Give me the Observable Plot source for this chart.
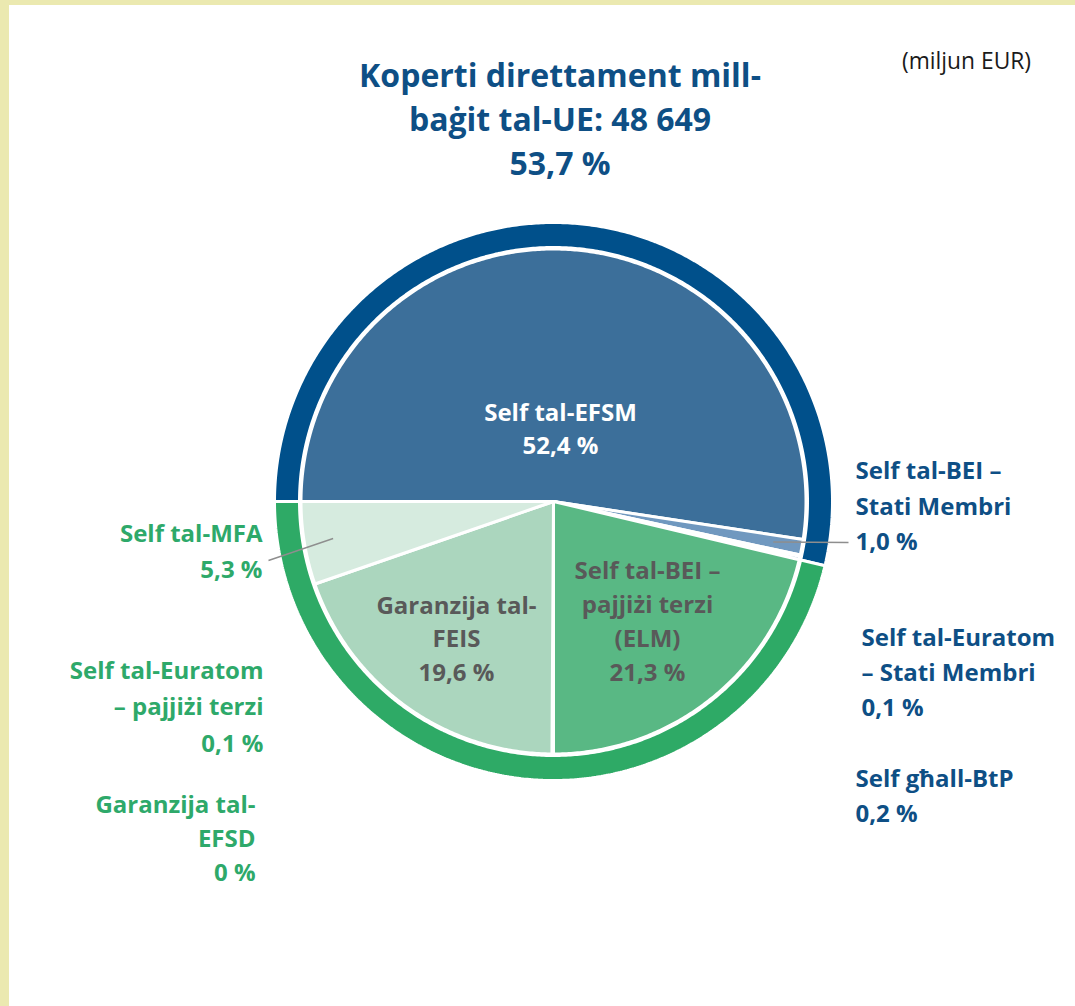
<!DOCTYPE html>
<html>
<head>
<meta charset="utf-8">
<script src="https://cdn.jsdelivr.net/npm/d3@7"></script>
<script src="https://cdn.jsdelivr.net/npm/@observablehq/plot@0.6"></script>
<style>
  body { margin: 0; background: #fff; }
  #frame { position: relative; width: 1075px; height: 1006px; overflow: hidden; background: #fff; font-family: "Open Sans", sans-serif; }
  #bandTop { position: absolute; left: 0; top: 0; width: 1075px; height: 5px; background: #ebe9b0; }
  #bandLeft { position: absolute; left: 0; top: 0; width: 9px; height: 1006px; background: #ebe9b0; }
  #title { position: absolute; left: 210px; top: 53px; width: 700px; text-align: center; font-weight: 700; font-size: 32px; line-height: 44px; color: #0e4f85; }
  #unit { position: absolute; left: 902px; top: 46px; font-size: 22.8px; line-height: 30px; color: #1a1a1a; }
  #chart { position: absolute; left: 0; top: 0; }
</style>
</head>
<body>
<div id="frame">
  <div id="bandTop"></div>
  <div id="bandLeft"></div>
  <div id="chart"></div>
  <div id="title">Koperti direttament mill-<br>baġit tal-UE: 48 649<br>53,7 %</div>
  <div id="unit">(miljun EUR)</div>
</div>
<script>
// ---- data ----
const categories = [
  "Self tal-EFSM",
  "Self tal-BEI – Stati Membri",
  "Self tal-Euratom – Stati Membri",
  "Self għall-BtP",
  "Self tal-BEI – pajjiżi terzi (ELM)",
  "Self tal-Euratom – pajjiżi terzi",
  "Garanzija tal-EFSD",
  "Garanzija tal-FEIS",
  "Self tal-MFA"
];
const shares = [52.4, 1.0, 0.1, 0.2, 21.3, 0.1, 0, 19.6, 5.3];
const groupOf = [0, 0, 0, 0, 1, 1, 1, 1, 1];
const ringGroups = ["Koperti direttament mill-baġit tal-UE", "Oħrajn"];
const labelLines = [
  "Self tal-EFSM",
  "Self tal-BEI –\nStati Membri",
  "Self tal-Euratom\n– Stati Membri",
  "Self għall-BtP",
  "Self tal-BEI –\npajjiżi terzi\n(ELM)",
  "Self tal-Euratom\n– pajjiżi terzi",
  "Garanzija tal-\nEFSD",
  "Garanzija tal-\nFEIS",
  "Self tal-MFA"
];

// ---- styles ----
const blue = "#0e4f85", green = "#2ea96a", gray = "#595959";
const sliceColors = ["#3c6f9a", "#7098bf", "#5d86b0", "#4d7aa6", "#59b884", "#80c79f", "#90cfab", "#abd6be", "#d6ebdf"];
const ringColors = ["#00508b", "#2eaa66"];
const R = 252.5, RIN = 254, ROUT = 279;
const cx = 553, cy = 501; // page position of the pie centre
const fontSize = 24;
// label layout (page coordinates): [x, y, anchor, colour, lineHeight in px]
const labelLayout = [
  [560, 426.5, "middle", "white", 33],
  [855, 503, "start", blue, 35.5],
  [861, 669, "start", blue, 35],
  [855, 792.5, "start", blue, 35],
  [647, 619, "middle", gray, 34],
  [263, 703, "end", green, 36.5],
  [255, 836, "end", green, 34],
  [456, 636, "middle", gray, 33.5],
  [262, 548, "end", green, 36]
];
const leaderEnds = {1: [848, 542], 8: [268, 560]};

// ---- geometry from data ----
const pie = d3.pie().sort(null).value(d => d).startAngle(-Math.PI / 2).endAngle(3 * Math.PI / 2);
const arcs = pie(shares);
const ringShares = ringGroups.map((g, gi) => d3.sum(shares.filter((s, i) => groupOf[i] === gi)));
const ringArcs = pie(ringShares);

function arcPts(r, a0, a1) {
  const n = Math.max(2, Math.ceil((a1 - a0) / (Math.PI / 360)));
  return d3.range(n + 1).map(k => {
    const a = a0 + (a1 - a0) * k / n;
    return {x: r * Math.sin(a), y: -r * Math.cos(a)};
  });
}
const marks = [];
arcs.forEach((a, i) => {
  if (a.endAngle - a.startAngle < 1e-9) return;
  const pts = [{x: 0, y: 0}, ...arcPts(R, a.startAngle, a.endAngle), {x: 0, y: 0}];
  marks.push(Plot.line(pts, {x: "x", y: "y", fill: sliceColors[i], stroke: "white", strokeWidth: 3, strokeLinejoin: "round"}));
});
ringArcs.forEach((a, i) => {
  const outer = arcPts(ROUT, a.startAngle, a.endAngle);
  const inner = arcPts(RIN, a.startAngle, a.endAngle).reverse();
  const pts = [...outer, ...inner, outer[0]];
  marks.push(Plot.line(pts, {x: "x", y: "y", fill: ringColors[i], stroke: "white", strokeWidth: 3, strokeLinejoin: "miter"}));
});

// leader lines
const leaders = Object.keys(leaderEnds).map(k => {
  const a = arcs[+k];
  const mid = (a.startAngle + a.endAngle) / 2;
  const r = 0.885 * R;
  return {x1: r * Math.sin(mid), y1: -r * Math.cos(mid), x2: leaderEnds[k][0] - cx, y2: leaderEnds[k][1] - cy};
});
marks.push(Plot.link(leaders, {x1: "x1", y1: "y1", x2: "x2", y2: "y2", stroke: "#8e8e8e", strokeWidth: 1.4}));

// labels
const fmt = v => (v === 0 ? "0" : v.toFixed(1).replace(".", ",")) + " %";
categories.forEach((c, i) => {
  const [lx, ly, anchor, color, lh] = labelLayout[i];
  marks.push(Plot.text([{x: lx - cx, y: ly - cy, t: labelLines[i] + "\n" + fmt(shares[i])}], {
    x: "x", y: "y", text: "t", textAnchor: anchor, fill: color, fontSize, fontWeight: 700, lineHeight: lh / fontSize
  }));
});

const chart = Plot.plot({
  width: 1075, height: 1006,
  margin: 0,
  x: {domain: [-cx, 1075 - cx], range: [0, 1075], axis: null},
  y: {domain: [-cy, 1006 - cy], range: [0, 1006], axis: null},
  style: {background: "transparent", fontFamily: "'Open Sans', sans-serif"},
  marks
});
document.getElementById("chart").appendChild(chart);
</script>
</body>
</html>
